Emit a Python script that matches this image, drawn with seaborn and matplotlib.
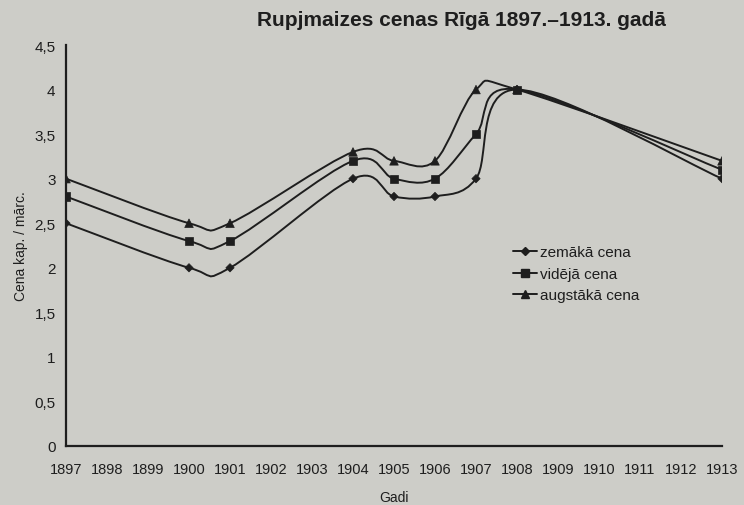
import numpy as np
import pandas as pd
import seaborn as sns
from matplotlib import pyplot as plt
from matplotlib.path import Path
from matplotlib.patches import PathPatch
from matplotlib.lines import Line2D

#%%

years = [1897, 1900, 1901, 1904, 1905, 1906, 1907, 1908, 1913]
zemaka = [2.5, 2.0, 2.0, 3.0, 2.8, 2.8, 3.0, 4.0, 3.0]
videja = [2.8, 2.3, 2.3, 3.2, 3.0, 3.0, 3.5, 4.0, 3.1]
augstaka = [3.0, 2.5, 2.5, 3.3, 3.2, 3.2, 4.0, 4.0, 3.2]
series_names = ["zemākā cena", "vidējā cena", "augstākā cena"]
xticks = list(range(1897, 1914))
yticks = [0, 0.5, 1, 1.5, 2, 2.5, 3, 3.5, 4, 4.5]
yticklabels = ["0", "0,5", "1", "1,5", "2", "2,5", "3", "3,5", "4", "4,5"]

df = pd.DataFrame({"gads": years * 3,
                   "cena": zemaka + videja + augstaka,
                   "veids": sum([[n] * len(years) for n in series_names], [])})

bg = "#cdcdc8"
ink = "#1e1e1e"
markers = {"zemākā cena": "D", "vidējā cena": "s", "augstākā cena": "^"}
msizes = {"zemākā cena": 18, "vidējā cena": 34, "augstākā cena": 38}

#%%

def smooth_path(x, y):
    # excel-like smoothed line (catmull-rom as cubic bezier)
    p = np.column_stack([x, y]).astype(float)
    verts = [p[0]]
    codes = [Path.MOVETO]
    n = len(p)
    for i in range(n - 1):
        p0 = p[i - 1] if i > 0 else p[i]
        p3 = p[i + 2] if i + 2 < n else p[i + 1]
        c1 = p[i] + (p[i + 1] - p0) / 6.0
        c2 = p[i + 1] - (p3 - p[i]) / 6.0
        verts += [c1, c2, p[i + 1]]
        codes += [Path.CURVE4] * 3
    return Path(verts, codes)

#%%

sns.set_style("white")
plt.rcParams["font.family"] = ["Liberation Sans", "DejaVu Sans"]

fig = plt.figure(figsize=(7.44, 5.06), dpi=100, facecolor=bg)
ax = fig.add_axes([66 / 744, 1 - 447 / 506, (722 - 66) / 744, (447 - 46) / 506])
ax.set_facecolor(bg)

for name in series_names:
    d = df[df.veids == name]
    ax.add_patch(PathPatch(smooth_path(d.gads, d.cena), fill=False,
                           edgecolor=ink, lw=1.4, zorder=2))

sns.scatterplot(data=df, x="gads", y="cena", hue="veids", style="veids",
                size="veids", sizes=msizes,
                markers=markers, palette=[ink] * 3, edgecolor=ink,
                linewidth=0.5, legend=False, ax=ax, zorder=3)

ax.set_xlim(1897, 1913)
ax.set_ylim(0, 4.5)
ax.set_xticks(xticks)
ax.set_xticklabels([str(t) for t in xticks], fontsize=10.5, color=ink)
ax.set_yticks(yticks)
ax.set_yticklabels(yticklabels, fontsize=11, color=ink)
ax.tick_params(axis="both", direction="inout", length=7, width=1.2, color=ink)
ax.tick_params(axis="x", pad=8)
ax.tick_params(axis="y", pad=4)
for s in ["top", "right"]:
    ax.spines[s].set_visible(False)
for s in ["left", "bottom"]:
    ax.spines[s].set_color(ink)
    ax.spines[s].set_linewidth(1.6)

ax.set_xlabel("Gadi", fontsize=10, color=ink, labelpad=10)
ax.set_ylabel("Cena kap. / mārc.", fontsize=10, color=ink, labelpad=5)

handles = [Line2D([], [], color=ink, lw=1.4, marker=markers[n],
                  markersize=4.5 if n == "zemākā cena" else 6, label=n)
           for n in series_names]
ax.legend(handles=handles, loc="upper left", bbox_to_anchor=(0.66, 0.535),
          frameon=False, fontsize=11, handlelength=1.6, handletextpad=0.2,
          labelspacing=0.5, labelcolor=ink)

fig.text(461 / 744, 1 - 20 / 506, "Rupjmaizes cenas Rīgā 1897.–1913. gadā",
         ha="center", va="center", fontsize=15, fontweight="bold", color=ink)

fig.savefig("out.png", dpi=100, facecolor=bg)
